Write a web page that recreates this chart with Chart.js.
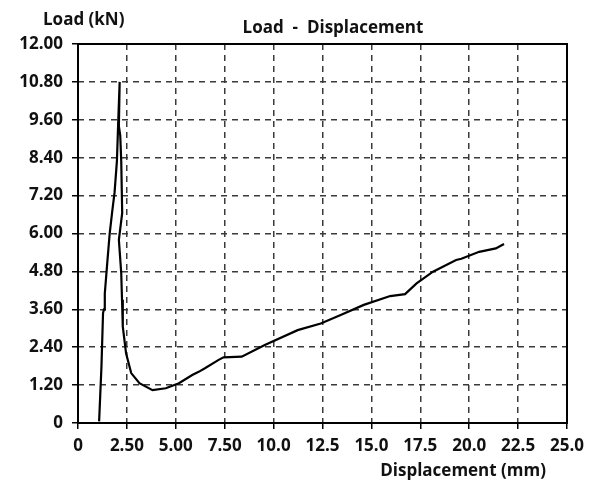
<!DOCTYPE html>
<html>
<head>
<meta charset="utf-8">
<script src="https://cdn.jsdelivr.net/npm/chart.js@4"></script>
<style>
  html, body { margin: 0; padding: 0; background: #fff; }
  #wrap { width: 591px; height: 484px; }
</style>
</head>
<body>
<div id="wrap"><canvas id="chart" width="591" height="484"></canvas></div>
<script>
// ===================================
// Load - Displacement data
// ===================================

const displacement = [1.08, 1.20, 1.28, 1.33, 1.37, 1.50, 1.62, 1.75, 1.87, 1.99, 2.06, 2.13,
    2.09, 2.16, 2.21, 2.26, 2.09, 2.21, 2.25, 2.29, 2.46, 2.72, 3.14, 3.81, 4.49, 5.16,
    5.84, 6.17, 6.51, 7.19, 7.44, 8.37, 9.55, 11.23, 12.41, 13.43, 14.61, 15.96, 16.72,
    17.31, 18.15, 19.33, 19.60, 20.51, 21.36, 21.78];
const load = [0.05, 1.80, 3.48, 3.60, 4.10, 5.10, 6.00, 6.70, 7.30, 8.30, 9.60, 10.80,
    9.40, 9.10, 8.30, 6.65, 5.80, 4.75, 3.90, 3.05, 2.20, 1.58, 1.26, 1.04, 1.10, 1.26,
    1.52, 1.62, 1.74, 2.00, 2.08, 2.10, 2.47, 2.94, 3.15, 3.42, 3.74, 4.02, 4.08,
    4.42, 4.79, 5.16, 5.20, 5.42, 5.53, 5.67];

const xTicks = [0, 2.5, 5, 7.5, 10, 12.5, 15, 17.5, 20, 22.5, 25];
const xTickLabels = ['0', '2.50', '5.00', '7.50', '10.0', '12.5', '15.0', '17.5', '20.0', '22.5', '25.0'];
const yTicks = [0, 1.2, 2.4, 3.6, 4.8, 6, 7.2, 8.4, 9.6, 10.8, 12];
const yTickLabels = ['0', '1.20', '2.40', '3.60', '4.80', '6.00', '7.20', '8.40', '9.60', '10.80', '12.00'];

const FONT = '"Open Sans", sans-serif';
const GRID = '#3a3a3a';

// draws frame + the three text labels
const labelsPlugin = {
    id: 'labels',
    afterDraw(chart) {
        const { ctx, chartArea } = chart;
        ctx.save();
        ctx.strokeStyle = '#000';
        ctx.lineWidth = 2;
        ctx.setLineDash([]);
        ctx.strokeRect(chartArea.left, chartArea.top, chartArea.right - chartArea.left, chartArea.bottom - chartArea.top);

        ctx.fillStyle = '#111';
        ctx.font = 'bold 17px ' + FONT;
        ctx.textBaseline = 'middle';
        ctx.textAlign = 'left';
        ctx.fillText('Load (kN)', 43, 20);
        ctx.textAlign = 'center';
        ctx.fillText('Load  -  Displacement', 333, 28);
        ctx.textAlign = 'right';
        ctx.fillText('Displacement (mm)', 546, 471);
        ctx.restore();
    }
};

const chart = new Chart(document.getElementById('chart'), {
    type: 'scatter',
    data: {
        datasets: [{
            data: displacement.map((x, i) => ({ x: x, y: load[i] })),
            showLine: true,
            borderColor: '#000',
            borderWidth: 2.2,
            pointRadius: 0,
            tension: 0,
            fill: false
        }]
    },
    options: {
        responsive: false,
        animation: false,
        layout: { padding: { top: 44, right: 19, left: 0, bottom: 0 } },
        plugins: {
            legend: { display: false },
            tooltip: { enabled: false }
        },
        scales: {
            x: {
                type: 'linear',
                min: 0,
                max: 25,
                afterBuildTicks: (scale) => { scale.ticks = xTicks.map(v => ({ value: v })); },
                afterFit: (scale) => { scale.height = 61; },
                ticks: {
                    autoSkip: false,
                    maxRotation: 0,
                    padding: 7,
                    color: '#111',
                    font: { family: FONT, size: 17, weight: 'bold' },
                    callback: (value, index) => xTickLabels[index]
                },
                grid: { color: GRID, lineWidth: 1.5, tickLength: 6, tickColor: '#000' },
                border: { display: false, dash: [6, 5] }
            },
            y: {
                type: 'linear',
                min: 0,
                max: 12,
                afterBuildTicks: (scale) => { scale.ticks = yTicks.map(v => ({ value: v })); },
                afterFit: (scale) => { scale.width = 78; },
                ticks: {
                    autoSkip: false,
                    padding: 9,
                    color: '#111',
                    font: { family: FONT, size: 17, weight: 'bold' },
                    callback: (value, index) => yTickLabels[index]
                },
                grid: { color: GRID, lineWidth: 1.5, tickLength: 6, tickColor: '#000' },
                border: { display: false, dash: [6, 5] }
            }
        }
    },
    plugins: [labelsPlugin]
});
</script>
</body>
</html>
